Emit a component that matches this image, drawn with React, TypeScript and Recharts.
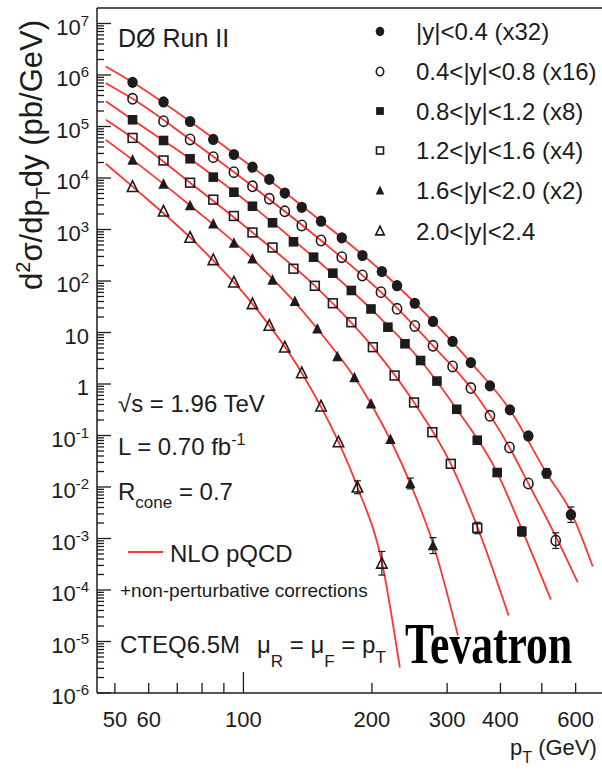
import { ComposedChart, Line, Scatter, XAxis, YAxis, ReferenceLine, ErrorBar } from "recharts";

const FONT = '"Liberation Sans", Arial, Helvetica, sans-serif';
const INK = "#1c1c1c";
const RED = "#ff3434";

// measured points: pT (GeV) and d2sigma/dpTdy (pb/GeV), already scaled
const ptY04 = [55, 65, 75, 85, 95, 105, 115, 125, 137, 152, 170, 190, 211, 229, 252, 278, 309, 341, 378, 421, 465, 513, 585];
const xsY04 = [7.2e5, 3.0e5, 1.25e5, 5.6e4, 2.86e4, 1.62e4, 9.4e3, 5.1e3, 2.7e3, 1.45e3, 690, 313, 153, 81, 37, 16.4, 6.7, 2.6, 0.92, 0.315, 0.098, 0.0185, 0.0029];

const ptY08 = [55, 65, 75, 85, 95, 105, 115, 125, 137, 152, 170, 190, 210, 229, 252, 278, 309, 341, 378, 420, 465, 539];
const xsY08 = [3.45e5, 1.27e5, 5.6e4, 2.54e4, 1.3e4, 6.9e3, 3.95e3, 2.25e3, 1.2e3, 611, 290, 128, 60.7, 28.8, 13.4, 5.5, 2.19, 0.835, 0.241, 0.0585, 0.0117, 9.1e-4];

const ptY12 = [55, 65, 75, 85, 95, 105, 117, 131, 146, 162, 179, 199, 218, 239, 260, 284, 316, 353, 393, 449];
const xsY12 = [1.35e5, 5.35e4, 2.36e4, 1.04e4, 5.3e3, 2.83e3, 1.35e3, 577, 290, 142, 65.5, 28.6, 12.7, 6.04, 2.86, 1.14, 0.323, 0.081, 0.0191, 1.37e-3];

const ptY16 = [55, 65, 75, 85, 95, 105, 117, 131, 147, 162, 179, 201, 226, 251, 277, 306, 353];
const xsY16 = [6.0e4, 2.19e4, 8.1e3, 3.8e3, 1.83e3, 875, 447, 173, 80.7, 37, 15.8, 5.19, 1.46, 0.438, 0.116, 0.0282, 1.6e-3];

const ptY20 = [55, 65, 75, 85, 95, 105, 117, 132, 149, 166, 182, 199, 221, 246, 278];
const xsY20 = [2.25e4, 7.7e3, 2.92e3, 1.29e3, 547, 270, 105, 40.5, 11.8, 3.42, 1.34, 0.413, 0.0843, 0.0117, 7.3e-4];

const ptY24 = [55, 65, 75, 85, 95, 105, 115, 125, 137, 152, 167, 185, 211];
const xsY24 = [6.8e3, 2.26e3, 700, 258, 94.8, 36, 13.7, 5.19, 1.64, 0.371, 0.0749, 9.9e-3, 3.3e-4];

// NLO pQCD curves
const nloPt1 = [47.6, 55, 75, 105, 152, 211, 278, 341, 421, 513, 585, 658];
const nloXs1 = [1.46e6, 7.2e5, 1.25e5, 1.62e4, 1.45e3, 153, 16.4, 2.6, 0.315, 0.0185, 0.0033, 2.86e-4];
const nloPt2 = [47.6, 55, 75, 105, 152, 210, 278, 341, 420, 465, 539, 607];
const nloXs2 = [6.93e5, 3.45e5, 5.6e4, 6.9e3, 611, 60.7, 5.5, 0.835, 0.0585, 0.0117, 1.1e-3, 1.4e-4];
const nloPt3 = [47.6, 55, 75, 105, 146, 199, 260, 316, 393, 449, 525];
const nloXs3 = [3.1e5, 1.35e5, 2.36e4, 2.83e3, 290, 28.6, 2.86, 0.323, 0.0191, 1.5e-3, 6.5e-5];
const nloPt4 = [47.6, 55, 75, 105, 147, 201, 251, 306, 353, 418];
const nloXs4 = [1.35e5, 6.0e4, 8.1e3, 875, 80.7, 5.19, 0.438, 0.0282, 1.7e-3, 3.2e-5];
const nloPt5 = [47.6, 55, 75, 105, 149, 199, 246, 278, 318];
const nloXs5 = [5.5e4, 2.25e4, 2.92e3, 270, 11.8, 0.413, 0.0117, 8e-4, 1.31e-5];
const nloPt6 = [47.6, 55, 75, 105, 137, 167, 185, 211, 232.5];
const nloXs6 = [1.89e4, 6.8e3, 700, 36, 1.64, 0.0749, 9.9e-3, 3.5e-4, 3.1e-6];

// points with visible error bars: [pT, value, low, high]
const errRows = [
  [513, 0.0185, 3.5e-3, 4.3e-3],
  [585, 0.0029, 8.5e-4, 1.2e-3],
  [539, 9.1e-4, 2.7e-4, 3.8e-4],
  [449, 1.37e-3, 2.6e-4, 3.2e-4],
  [353, 1.6e-3, 3.6e-4, 4.6e-4],
  [246, 0.0117, 2.5e-3, 3.2e-3],
  [278, 7.3e-4, 2.2e-4, 3.1e-4],
  [185, 9.9e-3, 2.5e-3, 3.3e-3],
  [211, 3.3e-4, 1.35e-4, 2.3e-4],
];

const LEGEND = ["|y|<0.4 (x32)", "0.4<|y|<0.8 (x16)", "0.8<|y|<1.2 (x8)", "1.2<|y|<1.6 (x4)", "1.6<|y|<2.0 (x2)", "2.0<|y|<2.4"];
const KINDS = ["dot", "ring", "box", "frame", "tri", "opentri"];

const X_TICKS = [50, 60, 70, 80, 90, 100, 200, 300, 400, 500, 600, 700];
const X_LABELS = [50, 60, 100, 200, 300, 400, 600];
const Y_EXP = [-6, -5, -4, -3, -2, -1, 0, 1, 2, 3, 4, 5, 6, 7];
const Y_MINOR = [2, 3, 4, 5, 6, 7, 8, 9];
const Y_TICKS = Y_EXP.flatMap((e) => [10 ** e, ...(e < 7 ? Y_MINOR.map((m) => m * 10 ** e) : [])]);

const pts = (pt: number[], xs: number[]) => pt.map((p, i) => ({ pt: p, v: xs[i] }));

const series = [
  pts(ptY04, xsY04), pts(ptY08, xsY08), pts(ptY12, xsY12),
  pts(ptY16, xsY16), pts(ptY20, xsY20), pts(ptY24, xsY24),
];
const curves = [
  pts(nloPt1, nloXs1), pts(nloPt2, nloXs2), pts(nloPt3, nloXs3),
  pts(nloPt4, nloXs4), pts(nloPt5, nloXs5), pts(nloPt6, nloXs6),
];
const errPts = errRows.map(([pt, v, lo, hi]) => ({ pt, v, err: [lo, hi] }));

function Marker({ cx, cy, kind, s = 5.2 }: { cx: number; cy: number; kind: string; s?: number }) {
  const open = kind === "ring" || kind === "frame" || kind === "opentri";
  const fill = open ? "none" : INK;
  const sw = open ? 1.6 : 0;
  if (kind === "dot" || kind === "ring")
    return <ellipse cx={cx} cy={cy} rx={open ? s - 0.6 : s} ry={open ? s : s + 0.4} fill={fill} stroke={INK} strokeWidth={sw} />;
  if (kind === "box" || kind === "frame") {
    const h = open ? s - 0.8 : s - 0.4;
    return <rect x={cx - h} y={cy - h} width={2 * h} height={2 * h} fill={fill} stroke={INK} strokeWidth={sw} />;
  }
  const w = s;
  return (
    <polygon
      points={`${cx},${cy - s - 0.6} ${cx - w},${cy + s - 0.4} ${cx + w},${cy + s - 0.4}`}
      fill={fill}
      stroke={INK}
      strokeWidth={open ? 1.6 : 0}
      strokeLinejoin="miter"
    />
  );
}

function YTick(props: any) {
  const { x, y, payload } = props;
  const lg = Math.log10(payload.value);
  const e = Math.round(lg);
  const major = Math.abs(lg - e) < 1e-6;
  return (
    <g>
      <line x1={x} x2={x + (major ? 14 : 7)} y1={y} y2={y} stroke={INK} strokeWidth={1.3} />
      {major && (
        <text x={x - 8} y={y + 11} textAnchor="end" fontSize={22} fontFamily={FONT} fill={INK}>
          {e === 0 ? "1" : "10"}
          {e !== 0 && e !== 1 && (
            <tspan dy={-9} fontSize={15}>
              {e}
            </tspan>
          )}
        </text>
      )}
    </g>
  );
}

function XTick(props: any) {
  const { x, y, payload } = props;
  const v = payload.value;
  return (
    <g>
      <line x1={x} x2={x} y1={y} y2={y - (v === 100 ? 21 : 10)} stroke={INK} strokeWidth={1.3} />
      {X_LABELS.includes(v) && (
        <text x={x} y={y + 34} textAnchor="middle" fontSize={22} fontFamily={FONT} fill={INK}>
          {v}
        </text>
      )}
    </g>
  );
}

export default function App() {
  const legendBase = [40, 80, 119.5, 159, 199, 239.5];
  return (
    <div style={{ position: "absolute", left: 0, top: 0, width: 602, height: 774, overflow: "hidden", background: "#fff" }}>
      <ComposedChart width={605} height={774} margin={{ top: 8, right: 0, bottom: 0, left: 0 }}>
        <XAxis
          type="number"
          dataKey="pt"
          scale="log"
          domain={[45.4, 703]}
          allowDataOverflow
          ticks={X_TICKS}
          interval={0}
          tickLine={false}
          tickSize={0}
          tickMargin={0}
          tick={(p: any) => <XTick {...p} />}
          axisLine={{ stroke: INK, strokeWidth: 1.5 }}
          height={81}
        />
        <YAxis
          type="number"
          dataKey="v"
          scale="log"
          domain={[1e-6, 2e7]}
          allowDataOverflow
          ticks={Y_TICKS}
          interval={0}
          tickLine={false}
          tickSize={0}
          tickMargin={0}
          tick={(p: any) => <YTick {...p} />}
          axisLine={{ stroke: INK, strokeWidth: 1.5 }}
          width={97}
        />
        <ReferenceLine y={2e7} stroke={INK} strokeWidth={1.5} />
        {curves.map((c, i) => (
          <Line
            key={"nlo" + i}
            data={c}
            dataKey="v"
            type="monotone"
            stroke={RED}
            strokeWidth={1.8}
            dot={false}
            activeDot={false}
            isAnimationActive={false}
          />
        ))}
        <Scatter data={errPts} dataKey="v" shape={() => <g />} isAnimationActive={false}>
          <ErrorBar dataKey="err" direction="y" width={3.5} stroke={INK} strokeWidth={1.2} />
        </Scatter>
        {series.map((s, i) => (
          <Scatter
            key={"s" + i}
            data={s}
            dataKey="v"
            isAnimationActive={false}
            shape={(p: any) => <Marker cx={p.cx} cy={p.cy} kind={KINDS[i]} />}
          />
        ))}
      </ComposedChart>

      <svg width={602} height={774} style={{ position: "absolute", left: 0, top: 0, pointerEvents: "none" }} fontFamily={FONT} fill={INK}>
        <text transform="translate(42,155) rotate(-90)" textAnchor="middle" fontSize={31}>
          d<tspan dy={-12} fontSize={20}>2</tspan>
          <tspan dy={12}>σ/dp</tspan>
          <tspan dy={8} fontSize={20}>T</tspan>
          <tspan dy={-8}>dy (pb/GeV)</tspan>
        </text>
        <text x={510} y={755} fontSize={22}>
          p<tspan dy={8} fontSize={16}>T</tspan>
          <tspan dy={-8}> (GeV)</tspan>
        </text>

        <text x={118} y={47} fontSize={25}>DØ Run II</text>

        {LEGEND.map((t, i) => (
          <g key={t}>
            <Marker cx={380} cy={legendBase[i] - 8.5} kind={KINDS[i]} s={4.3} />
            <text x={416} y={legendBase[i]} fontSize={24}>{t}</text>
          </g>
        ))}

        <text x={118} y={412} fontSize={24}>√s = 1.96 TeV</text>
        <text x={118} y={455} fontSize={24}>
          L = 0.70 fb<tspan dy={-10} fontSize={16}>-1</tspan>
        </text>
        <text x={118} y={500} fontSize={24}>
          R<tspan dy={8} fontSize={17}>cone</tspan>
          <tspan dy={-8}> = 0.7</tspan>
        </text>
        <line x1={128} x2={163} y1={552} y2={552} stroke={RED} strokeWidth={1.8} />
        <text x={170} y={562} fontSize={24}>NLO pQCD</text>
        <text x={120} y={597} fontSize={19}>+non-perturbative corrections</text>
        <text x={120} y={653} fontSize={24}>CTEQ6.5M</text>
        <text x={257} y={653} fontSize={24}>
          μ<tspan dy={14} fontSize={17}>R</tspan>
          <tspan dy={-14}> = μ</tspan>
          <tspan dy={14} fontSize={17}>F</tspan>
          <tspan dy={-14}> = p</tspan>
          <tspan dy={10} fontSize={17}>T</tspan>
        </text>
        <text
          transform="translate(405,663) scale(1,1.29)"
          fontSize={43.6}
          fontWeight="bold"
          fontFamily='"Liberation Serif", "Times New Roman", serif'
          fill="#000"
        >
          Tevatron
        </text>
      </svg>
    </div>
  );
}
